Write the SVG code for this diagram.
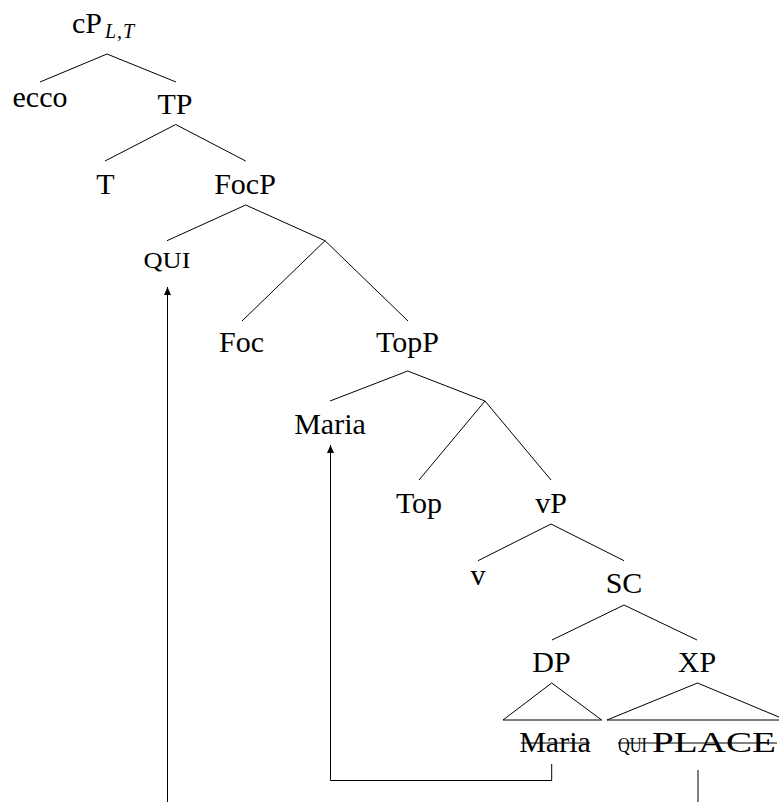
<svg xmlns="http://www.w3.org/2000/svg" width="779" height="802" viewBox="0 0 779 802">
<style>
text{font-family:'Liberation Serif',serif;font-size:30px;fill:#000}
.c{text-anchor:middle}
.sc{font-size:24px}
.sub{font-size:20px;font-style:italic}
.e{stroke:#000;stroke-width:1;fill:none}
.mv{stroke:#000;stroke-width:1;fill:none}
</style>
<defs>
<marker id="ah" markerWidth="8" markerHeight="8" refX="8" refY="3.5" orient="auto" markerUnits="userSpaceOnUse">
<path d="M0,0 L8,3.5 L0,7 Z" fill="#000"/>
</marker>
</defs>
<rect width="779" height="802" fill="#fff"/>
<g id="connectors">
<path class="e" d="M40,82 L107,54 L176,82"/>
<path class="e" d="M105,161 L175.7,124.5 L245.7,161"/>
<path class="e" d="M167,240.7 L245.7,205 L325,240.7"/>
<path class="e" d="M242,321 L325,240.7 L408,321"/>
<path class="e" d="M330,401 L407.7,371 L485,401"/>
<path class="e" d="M419,480 L485,401 L551,480"/>
<path class="e" d="M478,560.7 L551,524 L624,560.7"/>
<path class="e" d="M552,640 L624,605 L697,640"/>
<path class="e" d="M503,720 L551.7,683 L601.7,720 Z"/>
<path class="e" d="M607,720 L697.5,683 L786,720 Z"/>
<path class="mv" d="M167.5,802 L167.5,287" marker-end="url(#ah)"/>
<path class="mv" d="M551.7,764 L551.7,780.5 L330.5,780.5 L330.5,445" marker-end="url(#ah)"/>
<path class="mv" d="M698,770 L698,802"/>
</g>
<g font-family="Liberation Serif, serif">
<g id="cP"><text x="72" y="33">cP</text><text class="sub" x="105" y="38">L</text><text class="sub" x="117" y="38">,</text><text class="sub" x="123" y="38">T</text></g>
<g id="ecco"><text class="c" x="40" y="107">ecco</text></g>
<g id="TP"><text class="c" x="175" y="114">TP</text></g>
<g id="T"><text class="c" x="105.5" y="193.5">T</text></g>
<g id="FocP"><text class="c" x="245" y="193.5">FocP</text></g>
<g id="QUI"><text class="c sc" x="167" y="268" textLength="47" lengthAdjust="spacingAndGlyphs">QUI</text></g>
<g id="Foc"><text class="c" x="241.5" y="351.7">Foc</text></g>
<g id="TopP"><text class="c" x="407.5" y="351.7">TopP</text></g>
<g id="Maria"><text class="c" x="330" y="434">Maria</text></g>
<g id="Top"><text class="c" x="419" y="513">Top</text></g>
<g id="vP"><text class="c" x="551" y="513">vP</text></g>
<g id="v"><text class="c" x="478" y="585">v</text></g>
<g id="SC"><text class="c" x="624" y="593">SC</text></g>
<g id="DP"><text class="c" x="551.5" y="672">DP</text></g>
<g id="XP"><text class="c" x="697" y="672">XP</text></g>
<g id="MariaTrace"><text class="c" x="555" y="752">Maria</text><line class="e" x1="521" y1="743" x2="590" y2="743"/></g>
<g id="QuiPlace"><text x="618" y="752" style="font-size:21px" textLength="29" lengthAdjust="spacingAndGlyphs">QUI</text><text x="652" y="752" textLength="124" lengthAdjust="spacingAndGlyphs">PLACE</text><line class="e" x1="618" y1="743" x2="777" y2="743"/></g>
</g>
</svg>
